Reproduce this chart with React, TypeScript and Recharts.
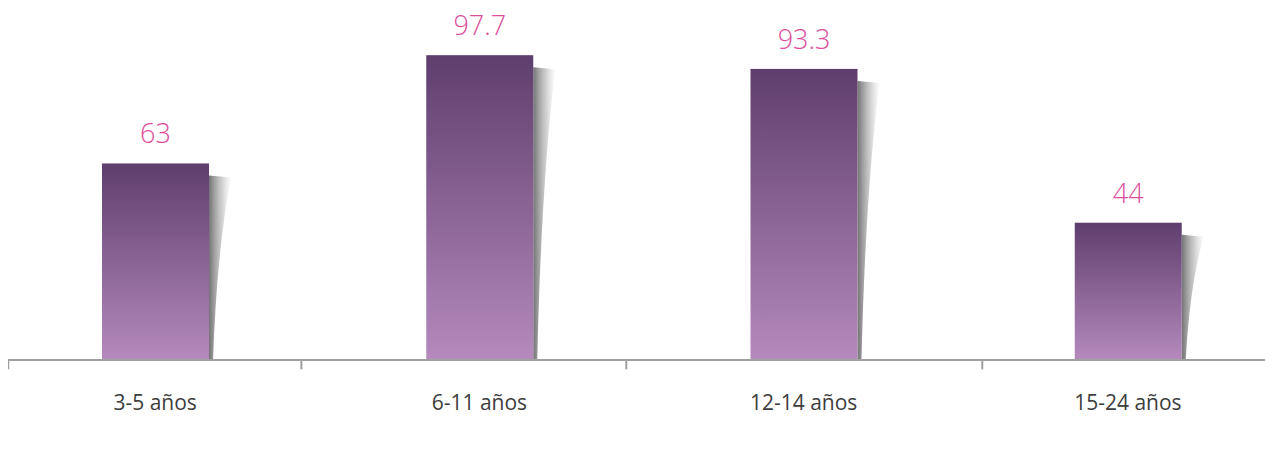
import React from "react";
import { BarChart, Bar, XAxis, YAxis, LabelList, ReferenceLine } from "recharts";

const categories = ["3-5 años", "6-11 años", "12-14 años", "15-24 años"];
const values = [63, 97.7, 93.3, 44];
const valueLabels = ["63", "97.7", "93.3", "44"];
const tickPositions = [0.047, 0.951, 1.953, 3.051];

const data = categories.map((c, i) => ({ cat: c, value: values[i], label: valueLabels[i], pos: i + 0.5 }));

const BarShape = (props: any) => {
  const { x, y, width, height } = props;
  const r = x + width;
  const b = y + height;
  const top = y + 12;
  const d = `M ${r} ${top} L ${r + 22} ${top + 2} Q ${r + 8} ${top + (b - top) * 0.4} ${r + 4} ${b} L ${r} ${b} Z`;
  return (
    <g>
      <path d={d} fill="url(#shadowGrad)" />
      <rect x={x} y={y} width={width} height={height} fill="url(#barGrad)" />
    </g>
  );
};

const CatTick = (props: any) => {
  const { x, y, payload } = props;
  return (
    <text
      x={x}
      y={y + 42}
      textAnchor="middle"
      fill="#3d3d3d"
      fontFamily="'Open Sans', sans-serif"
      fontSize={21}
    >
      {payload.value}
    </text>
  );
};

export default function App() {
  return (
    <div style={{ position: "absolute", left: 8, top: 0, width: 1257, height: 451, overflow: "hidden" }}>
      <div style={{ position: "absolute", left: -15, top: 0 }}>
        <BarChart
          width={1297}
          height={451}
          data={data}
          margin={{ top: 48, right: 0, left: 0, bottom: 31 }}
        >
          <defs>
            <linearGradient id="barGrad" x1="0" y1="0" x2="0" y2="1">
              <stop offset="0%" stopColor="#5e3e6d" />
              <stop offset="100%" stopColor="#b58abd" />
            </linearGradient>
            <linearGradient id="shadowGrad" x1="0" y1="0" x2="1" y2="0">
              <stop offset="0%" stopColor="#5a5a5a" stopOpacity={0.85} />
              <stop offset="60%" stopColor="#9a9a9a" stopOpacity={0.45} />
              <stop offset="100%" stopColor="#d0d0d0" stopOpacity={0.1} />
            </linearGradient>
          </defs>
          <XAxis
            xAxisId="c"
            dataKey="cat"
            height={60}
            tickLine={false}
            axisLine={{ stroke: "#a0a0a0", strokeWidth: 2 }}
            tick={<CatTick />}
            interval={0}
          />
          <XAxis
            xAxisId="t"
            dataKey="pos"
            type="number"
            domain={[0, 4]}
            allowDataOverflow
            hide
          />
          <YAxis domain={[0, 100]} hide />
          {tickPositions.map((t, i) => (
            <ReferenceLine
              key={i}
              xAxisId="t"
              segment={[{ x: t, y: 0 }, { x: t, y: -3 }]}
              stroke="#a0a0a0"
              strokeWidth={2}
              ifOverflow="visible"
            />
          ))}
          <Bar
            xAxisId="c"
            dataKey="value"
            barSize={107}
            shape={<BarShape />}
            isAnimationActive={false}
          >
            <LabelList
              dataKey="label"
              position="top"
              offset={20}
              fill="#dc4d9c"
              fontFamily="'Open Sans', sans-serif"
              fontWeight={300}
              fontSize={27}
            />
          </Bar>
        </BarChart>
      </div>
    </div>
  );
}
